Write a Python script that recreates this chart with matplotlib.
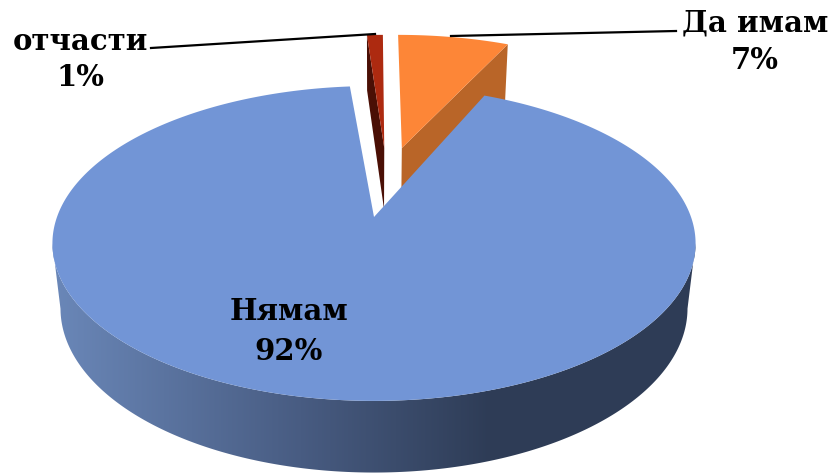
#!/usr/bin/env python
# 3D looking pie: slices are projected by hand since matplotlib has no 3D pie
import numpy as np
import matplotlib
matplotlib.use('Agg')
import matplotlib.pyplot as plt
from matplotlib.patches import Polygon

labels = ['Да имам', 'Нямам', 'отчасти']
values = [7, 92, 1]
top_colors = ['#fd8637', '#7295d6', '#ad2a10']
wall_colors = ['#b96528', '#2e3c58', '#4a0f05']
explode = [(0.095, 0.488), (0.0, 0.0), (0.035, 0.488)]

CX, CY = 374.0, 217.0
A, B = 317.0, 153.0
K, M, D = 0.168, 0.025, 66.0
MAIN_TURN = -1.5


def project(x, y, low=False):
    s = 1.0 / (1 + K * y + (M if low else 0))
    return CX + A * x * s, CY - B * y * s + (D * s if low else 0)


def edge(t1, t2, off, low=False, n=240):
    t = np.radians(np.linspace(t1, t2, n))
    return project(off[0] + np.sin(t), off[1] + np.cos(t), low)


def corner(t, off, low=False):
    t = np.radians(t)
    return project(off[0] + np.sin(t), off[1] + np.cos(t), low)


fig = plt.figure(figsize=(8.34, 4.74), dpi=100)
ax = fig.add_axes([0, 0, 1, 1])
ax.set_xlim(0, 834)
ax.set_ylim(474, 0)
ax.axis('off')

angles = np.cumsum([0] + values) * 3.6
t_orange = angles[0], angles[1]
t_main = angles[1] + MAIN_TURN, angles[2] + MAIN_TURN
t_red = angles[2], angles[3]

# orange slice, wall on its right side
off = explode[0]
p0 = project(*off)
p0l = project(*off, low=True)
c = corner(t_orange[1], off)
cl = corner(t_orange[1], off, True)
ax.fill([p0[0], c[0], cl[0], p0l[0]], [p0[1], c[1], cl[1], p0l[1]], color=wall_colors[0], lw=0, zorder=1)
ex, ey = edge(*t_orange, off)
ax.fill(np.r_[p0[0], ex], np.r_[p0[1], ey], color=top_colors[0], lw=0, zorder=2)

# red slice, wall on its left side
off = explode[2]
p0 = project(*off)
p0l = project(*off, low=True)
c = corner(t_red[0], off)
cl = corner(t_red[0], off, True)
ax.fill([p0[0], c[0], cl[0], p0l[0]], [p0[1], c[1], cl[1], p0l[1]], color=wall_colors[2], lw=0, zorder=1)
ex, ey = edge(*t_red, off)
ax.fill(np.r_[p0[0], ex], np.r_[p0[1], ey], color=top_colors[2], lw=0, zorder=2)

# big slice, rim is a gradient image clipped between the widest points
off = explode[1]
tx, ty = edge(*t_main, off, n=800)
bx, by = edge(*t_main, off, low=True, n=800)
i1, i2 = np.argmax(tx), np.argmin(tx)
j1, j2 = np.argmax(bx), np.argmin(bx)
rim = np.c_[np.r_[tx[i1:i2 + 1], bx[j1:j2 + 1][::-1]], np.r_[ty[i1:i2 + 1], by[j1:j2 + 1][::-1]]]
xs = np.arange(0, 834)
grad = np.c_[np.interp(xs, [55, 300, 490], [106, 72, 46]),
             np.interp(xs, [55, 300, 490], [135, 92, 60]),
             np.interp(xs, [55, 300, 490], [184, 130, 86])] / 255
im = ax.imshow(grad[np.newaxis, :, :], extent=[0, 834, 474, 0], aspect='auto', zorder=3)
im.set_clip_path(Polygon(rim, closed=True, transform=ax.transData))
p0 = project(*off)
ax.fill(np.r_[p0[0], tx], np.r_[p0[1], ty], color=top_colors[1], lw=0, zorder=4)

# leader lines
ax.plot([151, 375], [48, 34], color='black', lw=1.6, zorder=5)
ax.plot([451, 676], [36, 31], color='black', lw=1.6, zorder=5)

font = dict(family='DejaVu Serif', weight='bold', fontsize=21, color='black',
            ha='center', va='center', zorder=6)
ax.text(755, 23, labels[0], **font)
ax.text(755, 60, f'{values[0]}%', **font)
ax.text(289, 312, labels[1], **font)
ax.text(289, 351, f'{values[1]}%', **font)
ax.text(80, 41, labels[2], **font)
ax.text(80, 77, f'{values[2]}%', **font)

fig.savefig('out.png', dpi=100)
